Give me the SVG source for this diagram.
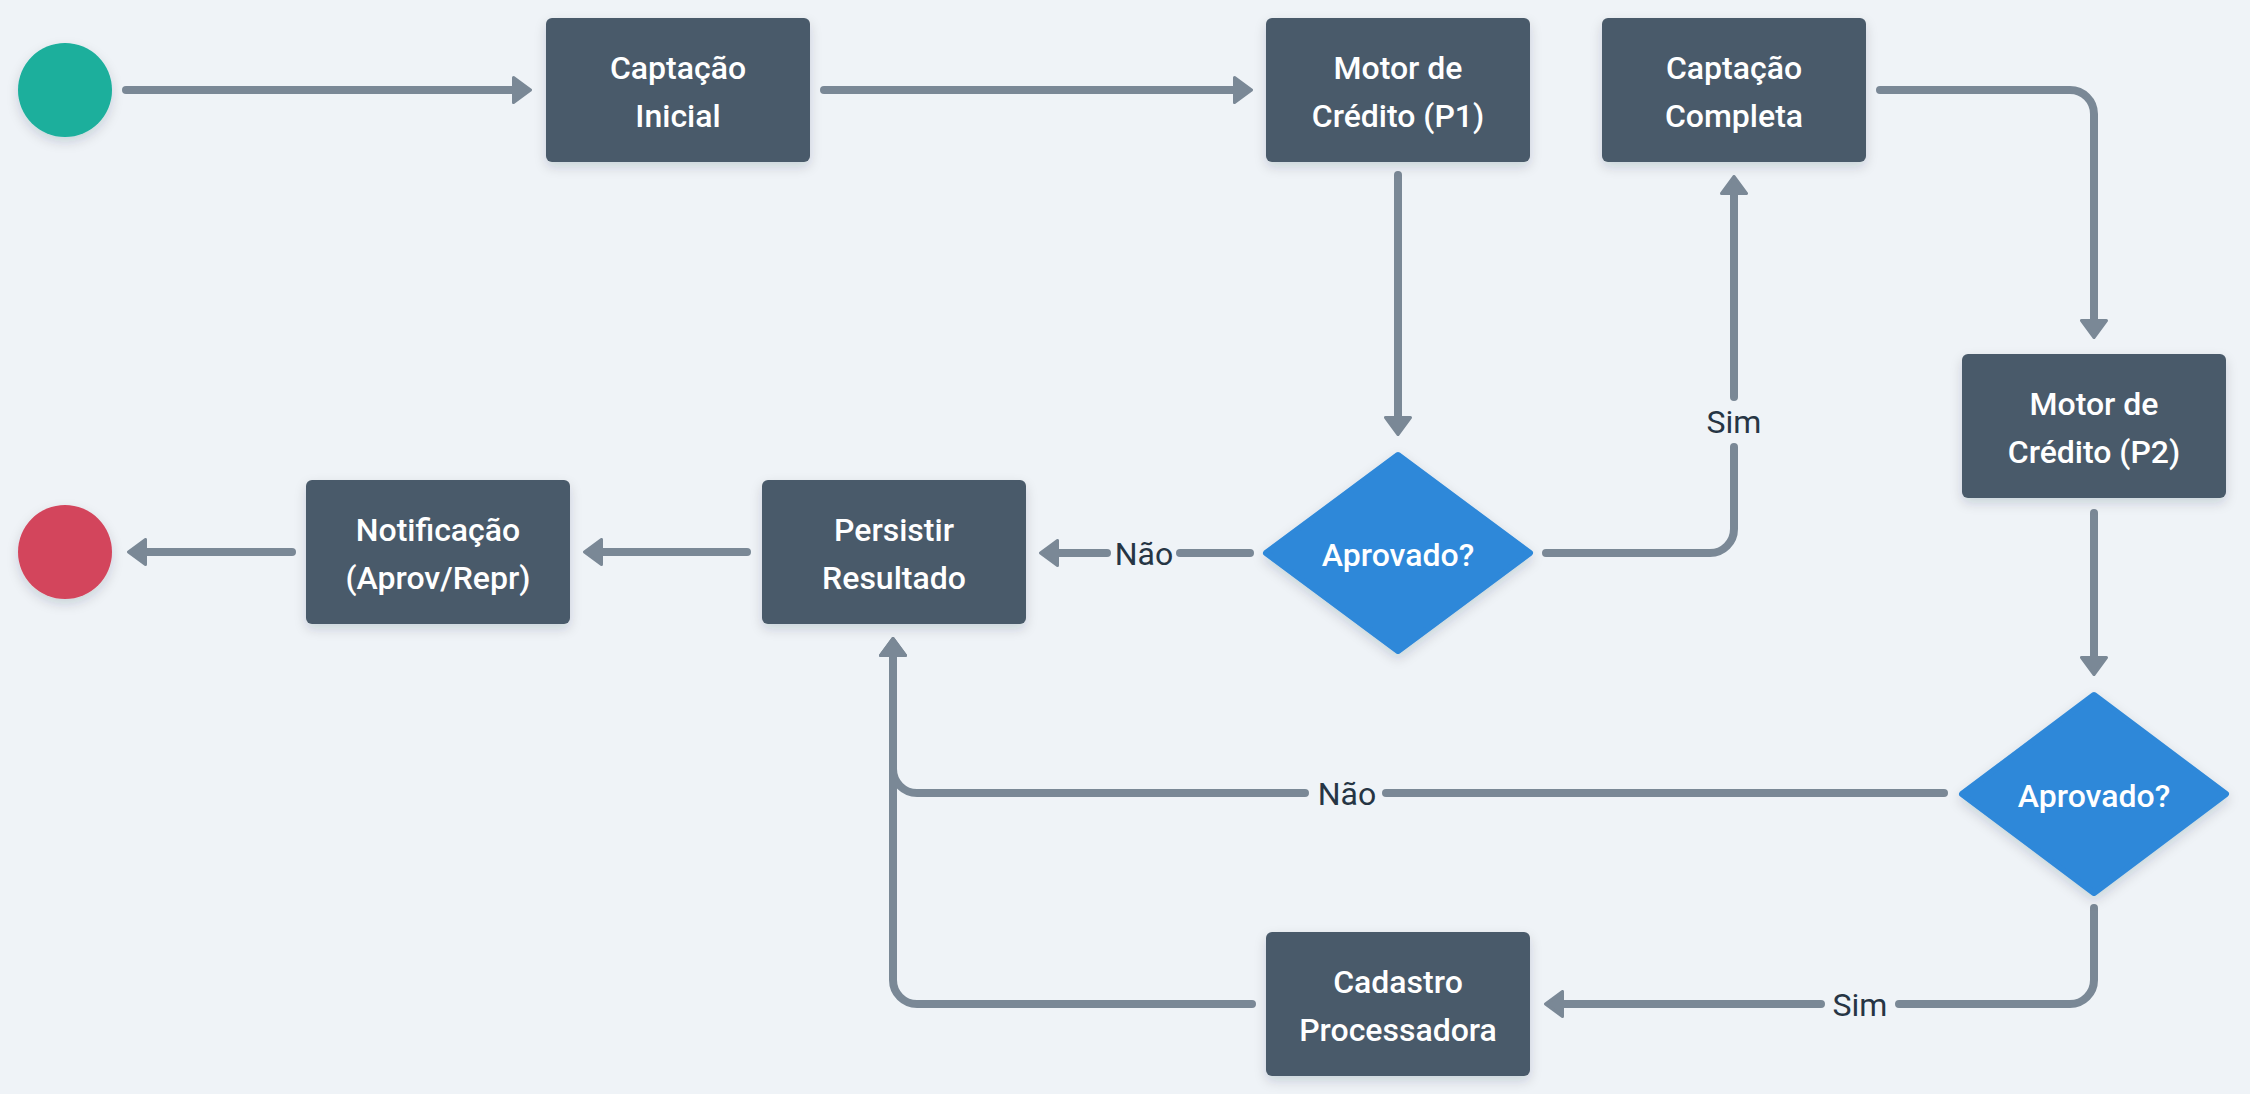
<svg xmlns="http://www.w3.org/2000/svg" width="2250" height="1094" viewBox="0 0 2250 1094">
  <defs>
    <filter id="sh" x="-20%" y="-20%" width="140%" height="150%">
      <feDropShadow dx="0" dy="5" stdDeviation="6" flood-color="#1f2d3d" flood-opacity="0.16"/>
    </filter>
    <marker id="ah" markerUnits="userSpaceOnUse" viewBox="0 0 20 28" refX="9" refY="14" markerWidth="20" markerHeight="28" orient="auto">
      <path d="M1.5,1.5 L18.5,14 L1.5,26.5 Z" fill="#7a8896" stroke="#7a8896" stroke-width="3" stroke-linejoin="round"/>
    </marker>
    <style>
      .box { fill: #4a5a6a; filter: url(#sh); }
      .dia { fill: #2e88d9; stroke: #2e88d9; stroke-width: 6; stroke-linejoin: round; filter: url(#sh); }
      .nt { font-family: Roboto, "Liberation Sans", sans-serif; font-weight: 500; font-size: 32px; fill: #ffffff; text-anchor: middle; }
      .lbl { font-family: Roboto, "Liberation Sans", sans-serif; font-weight: 400; font-size: 32px; fill: #263544; text-anchor: middle; }
      .ln { fill: none; stroke: #7a8896; stroke-width: 8; stroke-linecap: round; stroke-linejoin: round; }
      .arr { marker-end: url(#ah); }
    </style>
  </defs>
  <rect x="0" y="0" width="2250" height="1094" fill="#eff3f7"/>

  <g id="connectors">
    <path class="ln arr" d="M126,90 H521"/>
    <path class="ln arr" d="M824,90 H1242"/>
    <path class="ln arr" d="M1398,175 V425"/>
    <path class="ln" d="M1250,553 H1180"/>
    <path class="ln arr" d="M1107,553 H1050"/>
    <path class="ln" d="M1546,553 H1710 A24,24 0 0 0 1734,529 V447"/>
    <path class="ln arr" d="M1734,397 V186"/>
    <path class="ln arr" d="M1880,90 H2070 A24,24 0 0 1 2094,114 V328"/>
    <path class="ln arr" d="M2094,513 V665"/>
    <path class="ln" d="M1944,793 H1386"/>
    <path class="ln arr" d="M1305,793 H917 A24,24 0 0 1 893,769 V648"/>
    <path class="ln" d="M2094,908 V980 A24,24 0 0 1 2070,1004 H1899"/>
    <path class="ln arr" d="M1821,1004 H1555"/>
    <path class="ln arr" d="M1252,1004 H917 A24,24 0 0 1 893,980 V648"/>
    <path class="ln arr" d="M747,552 H594"/>
    <path class="ln arr" d="M292,552 H138"/>
    <text class="lbl" x="1144" y="565">Não</text>
    <text class="lbl" x="1734" y="433">Sim</text>
    <text class="lbl" x="1347" y="805">Não</text>
    <text class="lbl" x="1860" y="1016">Sim</text>
  </g>

  <g id="start">
    <circle cx="65" cy="90" r="47" fill="#1aaf9c" filter="url(#sh)"/>
  </g>
  <g id="captacao-inicial">
    <rect class="box" x="546" y="18" width="264" height="144" rx="6"/>
    <text class="nt" x="678"><tspan x="678" y="79">Captação</tspan><tspan x="678" y="127">Inicial</tspan></text>
  </g>
  <g id="motor-p1">
    <rect class="box" x="1266" y="18" width="264" height="144" rx="6"/>
    <text class="nt" x="1398"><tspan x="1398" y="79">Motor de</tspan><tspan x="1398" y="127">Crédito (P1)</tspan></text>
  </g>
  <g id="captacao-completa">
    <rect class="box" x="1602" y="18" width="264" height="144" rx="6"/>
    <text class="nt" x="1734"><tspan x="1734" y="79">Captação</tspan><tspan x="1734" y="127">Completa</tspan></text>
  </g>
  <g id="aprovado-1">
    <polygon class="dia" points="1398,455 1530,553 1398,651 1266,553"/>
    <text class="nt" x="1398" y="566">Aprovado?</text>
  </g>
  <g id="motor-p2">
    <rect class="box" x="1962" y="354" width="264" height="144" rx="6"/>
    <text class="nt" x="2094"><tspan x="2094" y="415">Motor de</tspan><tspan x="2094" y="463">Crédito (P2)</tspan></text>
  </g>
  <g id="aprovado-2">
    <polygon class="dia" points="2094,695 2226,794 2094,893 1962,794"/>
    <text class="nt" x="2094" y="807">Aprovado?</text>
  </g>
  <g id="cadastro">
    <rect class="box" x="1266" y="932" width="264" height="144" rx="6"/>
    <text class="nt" x="1398"><tspan x="1398" y="993">Cadastro</tspan><tspan x="1398" y="1041">Processadora</tspan></text>
  </g>
  <g id="persistir">
    <rect class="box" x="762" y="480" width="264" height="144" rx="6"/>
    <text class="nt" x="894"><tspan x="894" y="541">Persistir</tspan><tspan x="894" y="589">Resultado</tspan></text>
  </g>
  <g id="notificacao">
    <rect class="box" x="306" y="480" width="264" height="144" rx="6"/>
    <text class="nt" x="438"><tspan x="438" y="541">Notificação</tspan><tspan x="438" y="589">(Aprov/Repr)</tspan></text>
  </g>
  <g id="end">
    <circle cx="65" cy="552" r="47" fill="#d3455c" filter="url(#sh)"/>
  </g>
</svg>
